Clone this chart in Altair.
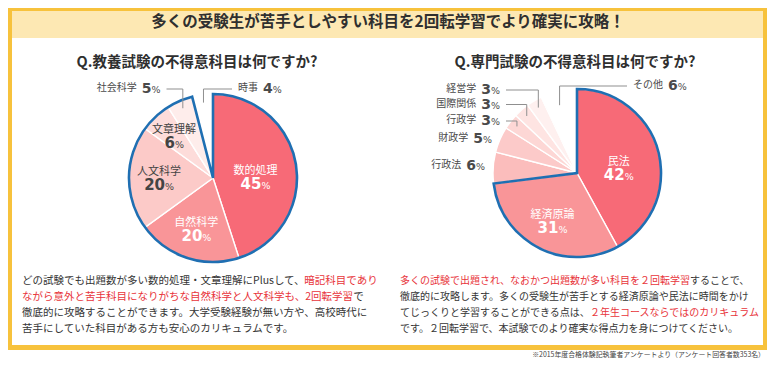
import math
import altair as alt
import pandas as pd

# ---------------- data ----------------
header_title = "多くの受験生が苦手としやすい科目を2回転学習でより確実に攻略！"
left_title = "Q.教養試験の不得意科目は何ですか?"
right_title = "Q.専門試験の不得意科目は何ですか?"

left_names = ["数的処理", "自然科学", "人文科学", "文章理解", "社会科学", "時事"]
left_values = [45, 20, 20, 6, 5, 4]
left_outlined = ["数的処理", "自然科学", "人文科学", "文章理解", "社会科学"]
left_inside = ["数的処理", "自然科学", "人文科学", "文章理解"]

right_names = ["民法", "経済原論", "行政法", "財政学", "行政学", "国際関係", "経営学", "その他"]
right_values = [42, 31, 6, 5, 3, 3, 3, 6]
right_outlined = ["民法", "経済原論"]
right_inside = ["民法", "経済原論"]

left_paragraph = [
    [("どの試験でも出題数が多い数的処理・文章理解にPlusして、", "k"), ("暗記科目であり", "r")],
    [("ながら意外と苦手科目になりがちな自然科学と人文科学も、2回転学習", "r"), (" で", "k")],
    [("徹底的に攻略することができます。大学受験経験が無い方や、高校時代に", "k")],
    [("苦手にしていた科目がある方も安心のカリキュラムです。", "k")],
]
right_paragraph = [
    [("多くの試験で出題され、なおかつ出題数が多い科目を２回転学習", "r"), ("することで、", "k")],
    [("徹底的に攻略します。多くの受験生が苦手とする経済原論や民法に時間をかけ", "k")],
    [("てじっくりと学習することができる点は、", "k"), ("２年生コースならではのカリキュラム", "r")],
    [("です。２回転学習で、本試験でのより確実な得点力を身につけてください。", "k")],
]
footnote = "※2015年度合格体験記執筆者アンケートより（アンケート回答者数353名）"

# ---------------- styles / layout ----------------
W, H = 759, 350
JP = "Noto Sans CJK JP"
NUMF = "DejaVu Sans"
DARK = "#353535"
RED = "#e8343b"
BLUE = "#1f6fb2"
GRAY = "#8f8f8f"
FRAME = "#f7c23c"
BAND = "#fde8b3"
left_palette = ["#f76a77", "#f99598", "#fccac8", "#fddcda", "#feedeb", "#ffffff"]
right_palette = ["#f76a77", "#f99598", "#fbbdbc", "#fccac9", "#fdd7d5", "#fee4e2", "#fef0ef", "#ffffff"]
left_label_colors = ["white", "white", "#444444", "#444444"]
right_label_colors = ["white", "white"]
R = 84
LC = (205, 170)
RC = (569, 165)
THETA = alt.Scale(domain=[0, 100], range=[0, 2 * math.pi])
DIG_OUT, PCT_W, NAME_FS, GAP = 9.7, 9.0, 10, 5

# outside label layout: name -> (anchor side, anchor x, y, leader line)
left_out = {"社会科学": ("right", 152.5, 80, True), "時事": ("left", 230, 80, True)}
right_out = {
    "経営学": ("right", 492, 81, True),
    "国際関係": ("right", 492, 95.5, True),
    "行政学": ("right", 492, 112, True),
    "財政学": ("right", 484, 129.5, False),
    "行政法": ("right", 477, 157, False),
    "その他": ("left", 625, 77, True),
}

# inside label groups: (filter, radius, dx of number/% split, extra dy)
INNER_GROUPS = [
    ("datum.value >= 40", 43, 6, 6),
    ("datum.value >= 10 && datum.value < 40", 54, 6, 0),
    ("datum.value < 10", 57, 1, 0),
]


def pie_df(names, values, palette):
    df = pd.DataFrame({"name": names, "value": values})
    df["end"] = df["value"].cumsum()
    df["start"] = df["end"] - df["value"]
    df["mid"] = (df["start"] + df["end"]) / 2
    df["fill"] = palette
    return df


def pie_layers(names, values, palette, outlined, inside, label_colors, center, outside):
    cx, cy = center
    df = pie_df(names, values, palette)
    pos = dict(x=alt.value(cx), y=alt.value(cy))
    layers = []
    layers.append(
        alt.Chart(df).mark_arc(outerRadius=R, stroke="white", strokeWidth=1.4).encode(
            theta=alt.Theta("start:Q", scale=THETA, stack=False),
            theta2=alt.Theta2("end:Q"),
            color=alt.Color("fill:N", scale=None),
            **pos,
        )
    )
    odf = pd.DataFrame({"start": [0], "end": [int(df[df.name.isin(outlined)]["value"].sum())]})
    layers.append(
        alt.Chart(odf).mark_arc(outerRadius=R, fillOpacity=0, stroke=BLUE, strokeWidth=2.6, strokeJoin="miter").encode(
            theta=alt.Theta("start:Q", scale=THETA, stack=False),
            theta2=alt.Theta2("end:Q"),
            **pos,
        )
    )
    # inside labels
    inn = df[df.name.isin(inside)].copy()
    inn["tcolor"] = label_colors
    inn["num"] = inn["value"].astype(str)
    inn["pct"] = "%"
    for flt, rad, dxv, ddy in INNER_GROUPS:
        base = alt.Chart(inn).transform_filter(flt).encode(
            theta=alt.Theta("mid:Q", scale=THETA, stack=False),
            radius=alt.value(rad),
            color=alt.Color("tcolor:N", scale=None),
            **pos,
        )
        layers.append(base.mark_text(font=JP, fontSize=11, baseline="middle", dy=-6.5 + ddy).encode(text="name:N"))
        layers.append(base.mark_text(font=NUMF, fontWeight="bold", fontSize=15, align="right",
                                     baseline="alphabetic", dx=dxv, dy=12 + ddy).encode(text="num:N"))
        layers.append(base.mark_text(font=NUMF, fontSize=9.5, align="left",
                                     baseline="alphabetic", dx=dxv, dy=12 + ddy).encode(text="pct:N"))
    # outside labels
    rows, rules = [], []
    for _, r in df.iterrows():
        if r["name"] not in outside:
            continue
        side, xa, y, line = outside[r["name"]]
        num = str(r["value"])
        nd = len(num)
        if side == "right":
            pct_x = xa - PCT_W
            num_x = pct_x - nd * DIG_OUT
            name_x = num_x - GAP - len(r["name"]) * NAME_FS
            edge = xa + 6
        else:
            name_x = xa
            num_x = xa + len(r["name"]) * NAME_FS + GAP
            pct_x = num_x + nd * DIG_OUT
            edge = xa - 6
        rows.append(dict(name=r["name"], num=num, pct="%", name_x=name_x, num_x=num_x, pct_x=pct_x, y=y, yb=y + 5))
        if line:
            a = r["mid"] / 100 * 2 * math.pi
            rl = 76 if r["name"] != "その他" else 70
            ex, ey = cx + rl * math.sin(a), cy - rl * math.cos(a)
            rules.append(dict(x=edge, x2=ex, y=y + 1, y2=y + 1))
            rules.append(dict(x=ex, x2=ex, y=y + 1, y2=ey))
    odf2 = pd.DataFrame(rows)
    ob = alt.Chart(odf2)
    layers.append(ob.mark_text(font=JP, fontSize=NAME_FS, align="left", baseline="middle", color="#4a4a4a").encode(
        x=alt.X("name_x:Q", scale=None, axis=None), y=alt.Y("y:Q", scale=None, axis=None), text="name:N"))
    layers.append(ob.mark_text(font=NUMF, fontWeight="bold", fontSize=14, align="left", baseline="alphabetic", color="#4a4a4a").encode(
        x=alt.X("num_x:Q", scale=None, axis=None), y=alt.Y("yb:Q", scale=None, axis=None), text="num:N"))
    layers.append(ob.mark_text(font=NUMF, fontSize=9.5, align="left", baseline="alphabetic", color="#4a4a4a").encode(
        x=alt.X("pct_x:Q", scale=None, axis=None), y=alt.Y("yb:Q", scale=None, axis=None), text="pct:N"))
    if rules:
        layers.append(alt.Chart(pd.DataFrame(rules)).mark_rule(color=GRAY, strokeWidth=1).encode(
            x=alt.X("x:Q", scale=None, axis=None), x2="x2:Q",
            y=alt.Y("y:Q", scale=None, axis=None), y2="y2:Q"))
    return layers


LATIN = {"P": 0.62, "l": 0.25, "u": 0.56, "s": 0.45, " ": 0.25}


def est_w(s, fs):
    return sum((LATIN.get(c, 0.55) if ord(c) < 128 else 1.0) * fs for c in s)


def para_rows(par, x0, y0, lh, fs):
    out = []
    for i, line in enumerate(par):
        x = x0
        for txt, c in line:
            out.append(dict(x=x, y=y0 + i * lh, t=txt, c=RED if c == "r" else DARK, fs=fs))
            x += est_w(txt, fs)
    return out


# frame
frame = pd.DataFrame([
    dict(x=0, x2=W, y=0, y2=30, c=BAND),
    dict(x=0, x2=W, y=0, y2=3, c=FRAME),
    dict(x=0, x2=4, y=0, y2=342, c=FRAME),
    dict(x=W - 4, x2=W, y=0, y2=342, c=FRAME),
    dict(x=0, x2=W, y=337, y2=342, c=FRAME),
])
frame_layer = alt.Chart(frame).mark_rect().encode(
    x=alt.X("x:Q", scale=None, axis=None), x2="x2:Q",
    y=alt.Y("y:Q", scale=None, axis=None), y2="y2:Q",
    color=alt.Color("c:N", scale=None))

titles = pd.DataFrame([
    dict(x=380, y=13.5, t=header_title, fs=15.5),
    dict(x=189, y=55, t=left_title, fs=14.5),
    dict(x=567, y=55, t=right_title, fs=14.5),
])
title_layer = alt.Chart(titles).mark_text(font=JP, fontWeight="bold", color="#2f2f2f", align="center", baseline="middle").encode(
    x=alt.X("x:Q", scale=None, axis=None), y=alt.Y("y:Q", scale=None, axis=None),
    text="t:N", size=alt.Size("fs:Q", scale=None, legend=None))

paras = pd.DataFrame(para_rows(left_paragraph, 14, 273, 16, 10.5) + para_rows(right_paragraph, 392, 273, 16, 10.0))
para_layer = alt.Chart(paras).mark_text(font=JP, align="left", baseline="middle").encode(
    x=alt.X("x:Q", scale=None, axis=None), y=alt.Y("y:Q", scale=None, axis=None),
    text="t:N", color=alt.Color("c:N", scale=None), size=alt.Size("fs:Q", scale=None, legend=None))

foot_layer = alt.Chart(pd.DataFrame([dict(x=757, y=346.5, t=footnote)])).mark_text(
    font=JP, fontSize=6.9, align="right", baseline="middle", color="#444444").encode(
    x=alt.X("x:Q", scale=None, axis=None), y=alt.Y("y:Q", scale=None, axis=None), text="t:N")

layers = [frame_layer, title_layer]
layers += pie_layers(left_names, left_values, left_palette, left_outlined, left_inside, left_label_colors, LC, left_out)
layers += pie_layers(right_names, right_values, right_palette, right_outlined, right_inside, right_label_colors, RC, right_out)
layers += [para_layer, foot_layer]

chart = alt.layer(*layers).properties(
    width=W, height=H, padding=0, autosize=alt.AutoSizeParams(type="none")
).configure_view(strokeWidth=0)

chart.save("out.html", embed_options={"renderer": "svg", "actions": False})
